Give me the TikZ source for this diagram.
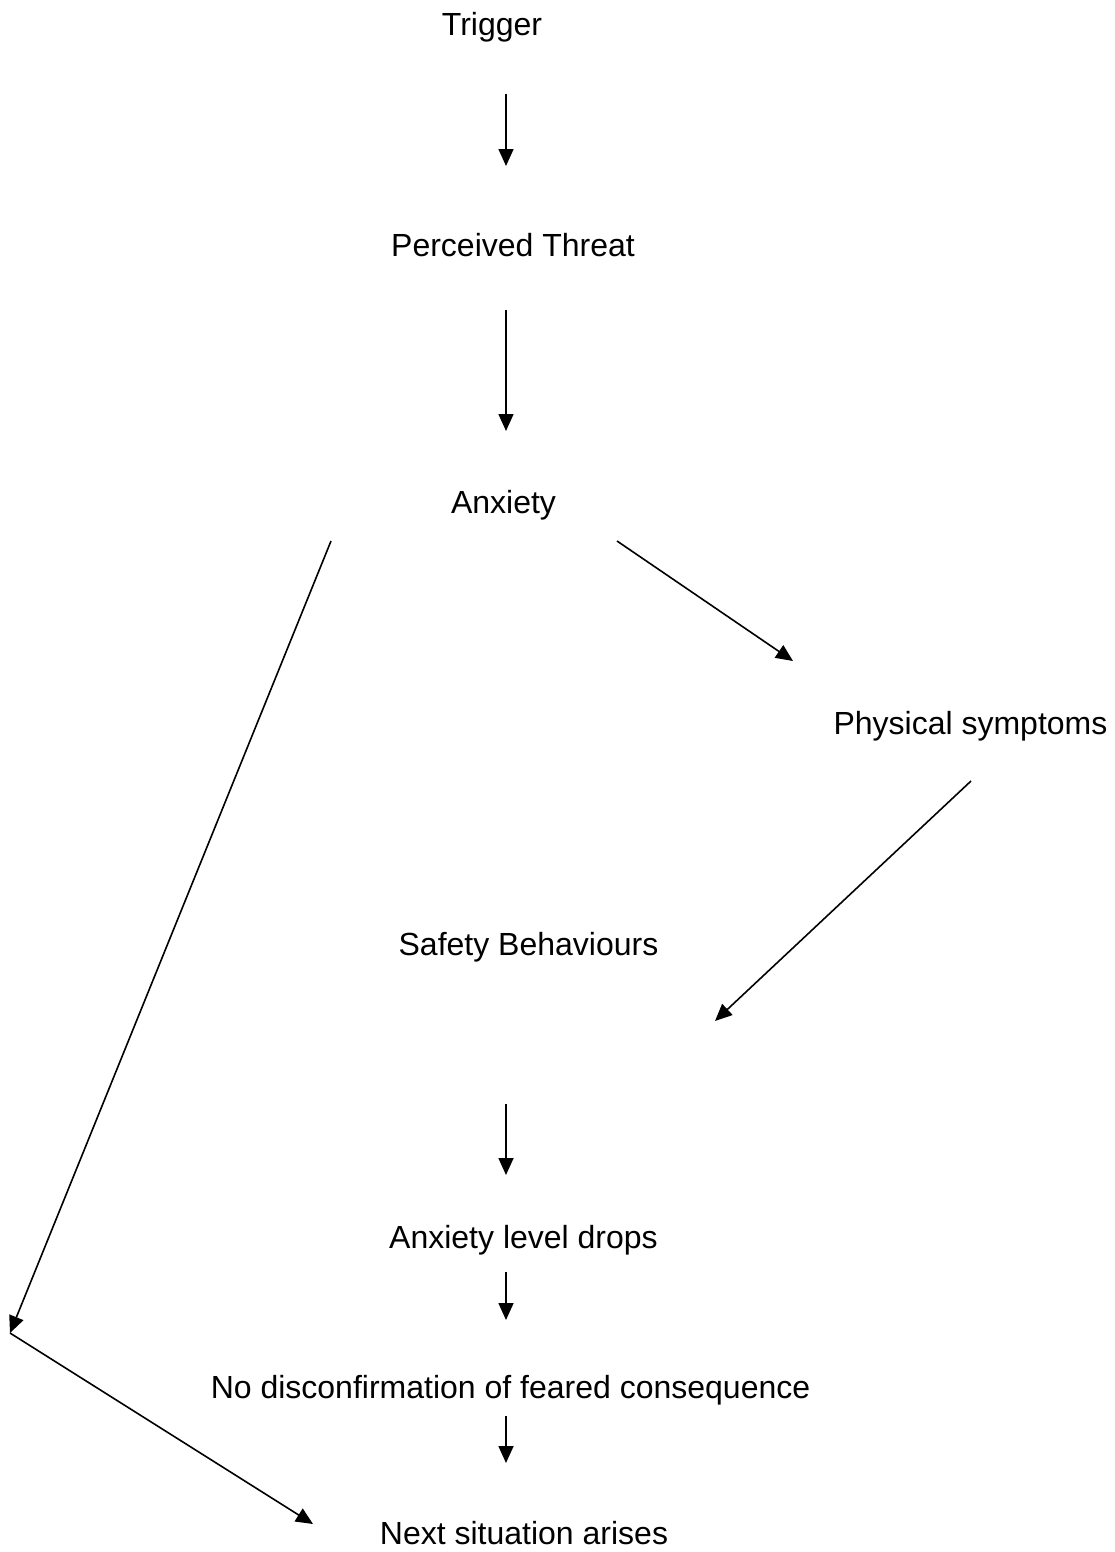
\documentclass[tikz,border=0pt]{standalone}
\usepackage{fontspec}
\setmainfont{Liberation Sans}
\usetikzlibrary{arrows.meta}
\begin{document}
\begin{tikzpicture}[x=1pt,y=-1pt,
  lbl/.style={anchor=base,inner sep=0pt,font=\fontsize{32}{38}\selectfont},
  arr/.style={line width=1.6pt,-{Triangle[length=17pt,width=15pt]}}]
\useasboundingbox (0,0) rectangle (1114,1552);
\fill[white] (0,0) rectangle (1114,1552);
\node[lbl] (trig) at (492,36) {Trigger};
\node[lbl] (threat) at (513,256) {Perceived Threat};
\node[lbl] (anx) at (503.5,513) {Anxiety};
\node[lbl] (phys) at (970.5,734) {Physical symptoms};
\node[lbl] (safe) at (528.5,955) {Safety Behaviours};
\node[lbl] (drop) at (523.5,1248) {Anxiety level drops};
\node[lbl] (nodis) at (510.5,1398) {No disconfirmation of feared consequence};
\node[lbl] (next) at (524,1544) {Next situation arises};
\coordinate (a1s) at (506,94);   \coordinate (a1e) at (506,166);
\coordinate (a2s) at (506,310);  \coordinate (a2e) at (506,431);
\coordinate (a3s) at (331,541);  \coordinate (corner) at (10,1333);
\coordinate (a4s) at (617,541);  \coordinate (a4e) at (793,661);
\coordinate (a5s) at (971,781);  \coordinate (a5e) at (715,1021);
\coordinate (a6s) at (506,1104); \coordinate (a6e) at (506,1175);
\coordinate (a7s) at (506,1272); \coordinate (a7e) at (506,1320);
\coordinate (a8s) at (506,1416); \coordinate (a8e) at (506,1463);
\coordinate (a9e) at (313,1524);
\draw[arr] (a1s) -- (a1e);
\draw[arr] (a2s) -- (a2e);
\draw[arr] (a3s) -- (corner);
\draw[arr] (a4s) -- (a4e);
\draw[arr] (a5s) -- (a5e);
\draw[arr] (a6s) -- (a6e);
\draw[arr] (a7s) -- (a7e);
\draw[arr] (a8s) -- (a8e);
\draw[arr] (corner) -- (a9e);
\end{tikzpicture}
\end{document}
